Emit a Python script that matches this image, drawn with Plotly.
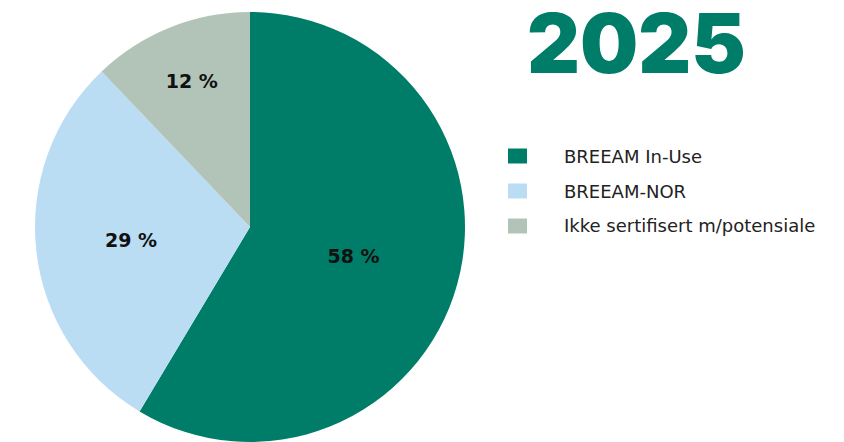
import plotly.graph_objects as go

categories = ["BREEAM In-Use", "BREEAM-NOR", "Ikke sertifisert m/potensiale"]
values = [58, 29, 12]
colors = ["#007D68", "#BADDF4", "#B2C4B8"]
title_text = "2025"

W, H = 844, 442

fig = go.Figure()
fig.add_trace(go.Pie(
    labels=categories,
    values=values,
    sort=False,
    direction="clockwise",
    rotation=0,
    marker=dict(colors=colors, line=dict(width=0)),
    texttemplate="%{value} %",
    textposition="inside",
    insidetextorientation="horizontal",
    textfont=dict(family="DejaVu Sans", size=19, color="#111111", weight=700),
    hoverinfo="label+percent",
    domain=dict(x=[35 / W, 465 / W], y=[0, (H - 12) / H]),
    showlegend=False,
))

# Title
fig.add_annotation(
    x=636 / W, y=1 - 43 / H, xref="paper", yref="paper",
    text=title_text, showarrow=False,
    font=dict(family="Inter", size=82, color="#007D68", weight=900),
    xanchor="center", yanchor="middle", height=62, valign="middle",
)

# Manual legend
leg_y = [156, 191, 226]
for cat, col, yy in zip(categories, colors, leg_y):
    fig.add_shape(type="rect", xref="paper", yref="paper",
                  x0=508 / W, x1=527 / W,
                  y0=1 - (yy + 7.5) / H, y1=1 - (yy - 7.5) / H,
                  fillcolor=col, line=dict(width=0))
    fig.add_annotation(x=562 / W, y=1 - yy / H, xref="paper", yref="paper",
                       text=cat, showarrow=False, xanchor="left", yanchor="middle",
                       font=dict(family="DejaVu Sans", size=18, color="#222222"))

fig.update_layout(
    width=W, height=H,
    margin=dict(l=0, r=0, t=0, b=0),
    paper_bgcolor="white", plot_bgcolor="white",
)

fig.write_html("out.html")
